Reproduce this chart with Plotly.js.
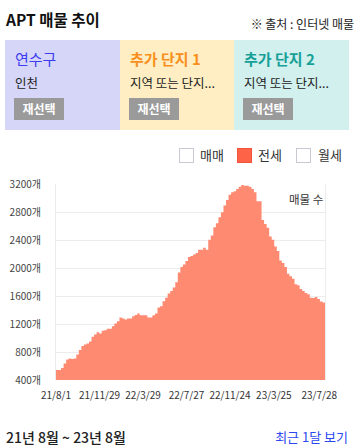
<!DOCTYPE html>
<html>
<head>
<meta charset="utf-8">
<script src="https://cdn.plot.ly/plotly-3.0.1.min.js"></script>
<style>
  html, body { margin:0; padding:0; background:#fff; width:358px; height:447px; overflow:hidden;
    font-family:"Noto Sans CJK KR","Noto Sans",sans-serif; }
  .abs { position:absolute; white-space:nowrap; }
  .panel { position:absolute; top:40px; height:90px; }
  .ptitle { position:absolute; left:10px; top:11px; font-size:15px; line-height:15px; }
  .psub { position:absolute; left:10px; top:36px; font-size:12.5px; line-height:13px; color:#222; }
  .btn { position:absolute; left:9px; top:58px; width:50px; height:22px; background:#9a9a9a; color:#fff;
    font-size:12px; font-weight:bold; line-height:22px; text-align:center; }
  .box { position:absolute; top:148px; width:13px; height:13px; border:1px solid #c9c9d3; background:#fff; }
  .ltxt { position:absolute; top:147px; font-size:13px; line-height:15px; color:#333; }
</style>
</head>
<body>
<div class="abs" style="left:6px;top:10px;font-size:15.5px;font-weight:bold;color:#111;line-height:18px;">APT 매물 추이</div>
<div class="abs" style="right:4px;top:16px;font-size:12px;color:#222;line-height:15px;">※ 출처 : 인터넷 매물</div>

<div class="panel" style="left:5px;width:115px;background:#d6d6f9;">
  <div class="ptitle" style="color:#3d3df0;">연수구</div>
  <div class="psub">인천</div>
  <div class="btn">재선택</div>
</div>
<div class="panel" style="left:120px;width:114px;background:#ffeec3;">
  <div class="ptitle" style="color:#f7901e;font-weight:bold;">추가 단지 1</div>
  <div class="psub">지역 또는 단지...</div>
  <div class="btn">재선택</div>
</div>
<div class="panel" style="left:234px;width:115px;background:#d1f0ee;">
  <div class="ptitle" style="color:#17a098;font-weight:bold;">추가 단지 2</div>
  <div class="psub">지역 또는 단지...</div>
  <div class="btn">재선택</div>
</div>

<div class="box" style="left:179px;"></div>
<div class="ltxt" style="left:200px;">매매</div>
<div class="box" style="left:237px;background:#ff6347;border-color:#f0553a;"></div>
<div class="ltxt" style="left:258px;">전세</div>
<div class="box" style="left:296px;"></div>
<div class="ltxt" style="left:318px;">월세</div>

<div id="chart" class="abs" style="left:0;top:165px;width:358px;height:250px;"></div>

<div class="abs" style="left:6px;top:429px;font-size:14px;color:#222;line-height:16px;font-weight:500;">21년 8월 ~ 23년 8월</div>
<div class="abs" style="right:10px;top:429px;font-size:13px;color:#2b47ef;line-height:16px;">최근 1달 보기</div>

<script>
// Weekly listing counts (전세), starting 2021-08-01
const startDate = "2021-08-01";
const jeonseCounts = [
  543, 543, 571, 638, 695, 710, 700, 710, 767, 829,
  886, 910, 924, 952, 1019, 1052, 1086, 1067, 1105, 1114,
  1133, 1133, 1171, 1210, 1243, 1295, 1281, 1267, 1281, 1281,
  1314, 1333, 1352, 1329, 1329, 1329, 1295, 1295, 1329, 1352,
  1438, 1457, 1529, 1580, 1640, 1675, 1725, 1800, 1940, 2019,
  2057, 2105, 2162, 2176, 2200, 2219, 2267, 2267, 2295, 2267,
  2410, 2471, 2590, 2648, 2733, 2805, 2900, 2981, 3057, 3090,
  3105, 3138, 3171, 3195, 3186, 3186, 3171, 3138, 3090, 2962,
  2962, 2695, 2638, 2581, 2457, 2410, 2314, 2248, 2114, 2076,
  2019, 1924, 1886, 1852, 1771, 1757, 1705, 1676, 1648, 1629,
  1580, 1575, 1590, 1560, 1525, 1510, 1500
];
const xTickDates = ["2021-08-01","2021-11-29","2022-03-29","2022-07-27","2022-11-24","2023-03-25","2023-07-28"];
const xTickLabels = ["21/8/1","21/11/29","22/3/29","22/7/27","22/11/24","23/3/25","23/7/28"];
const yTickValues = [400, 800, 1200, 1600, 2000, 2400, 2800, 3200];
const yTickLabels = ["400개","800개","1200개","1600개","2000개","2400개","2800개","3200개"];

function addDays(s, n) {
  const d = new Date(s + "T00:00:00Z");
  d.setUTCDate(d.getUTCDate() + n);
  return d.toISOString().slice(0, 10);
}
const weekDates = jeonseCounts.map((_, i) => addDays(startDate, 7 * i));

const trace = {
  type: "scatter",
  mode: "lines",
  x: weekDates,
  y: jeonseCounts,
  line: { shape: "hv", width: 0, color: "#ff8a72" },
  fill: "tozeroy",
  fillcolor: "#ff8a72",
  hoverinfo: "skip",
  showlegend: false
};

const layout = {
  width: 358, height: 250,
  margin: { l: 56, r: 33, t: 19, b: 35 },
  paper_bgcolor: "rgba(0,0,0,0)",
  plot_bgcolor: "#fff",
  showlegend: false,
  font: { family: "Noto Sans CJK KR, Noto Sans, sans-serif", color: "#333" },
  xaxis: {
    type: "date",
    range: [startDate, weekDates[weekDates.length - 1]],
    tickmode: "array",
    tickvals: xTickDates,
    ticktext: xTickLabels,
    showgrid: false,
    zeroline: false,
    showline: false,
    ticks: "",
    ticklabelstandoff: 8,
    tickfont: { size: 10, color: "#333" }
  },
  yaxis: {
    range: [400, 3210],
    tickmode: "array",
    tickvals: yTickValues,
    ticktext: yTickLabels,
    showgrid: true,
    gridcolor: "#ececec",
    gridwidth: 1,
    zeroline: false,
    showline: true,
    mirror: true,
    linecolor: "#ececec",
    ticks: "",
    ticklabelstandoff: 12,
    tickfont: { size: 10, color: "#444" }
  },
  annotations: [{
    text: "매물 수",
    xref: "paper", yref: "paper",
    x: 1, y: 1, xanchor: "right", yanchor: "top",
    yshift: -5,
    showarrow: false,
    font: { size: 11.5, color: "#333" }
  }]
};

Plotly.newPlot("chart", [trace], layout, { displayModeBar: false, staticPlot: true });
</script>
</body>
</html>
